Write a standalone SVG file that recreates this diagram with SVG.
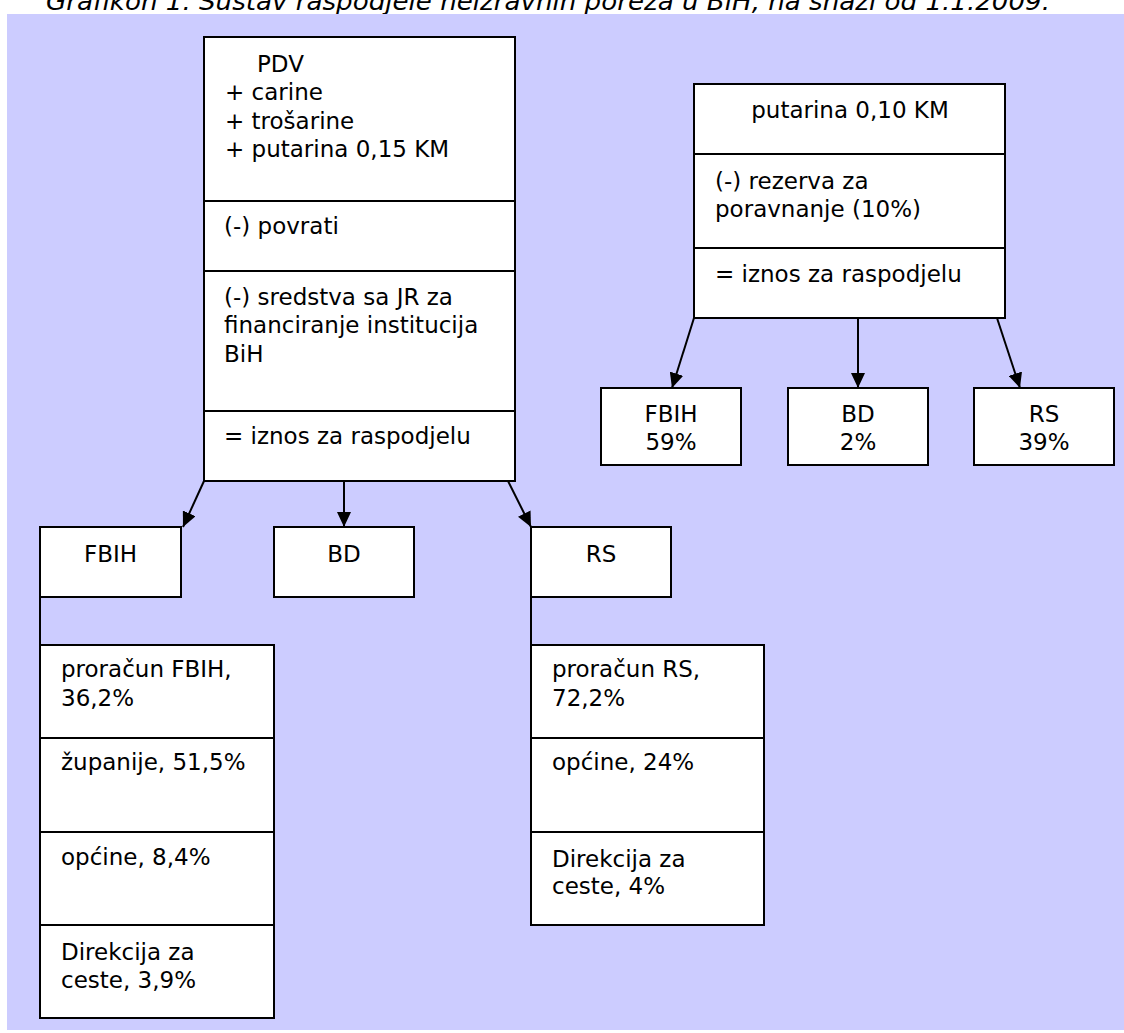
<svg xmlns="http://www.w3.org/2000/svg" width="1124" height="1033" viewBox="0 0 1124 1033">
<style>
.box{fill:#fff;stroke:#000;stroke-width:2}
.div{stroke:#000;stroke-width:2}
.t{font-family:Verdana,"DejaVu Sans",sans-serif;font-size:23px;fill:#000}
.c{text-anchor:middle}
.title{font-family:Verdana,"DejaVu Sans",sans-serif;font-size:25px;font-style:italic;fill:#000}
.con{stroke:#000;stroke-width:2;fill:none}
</style>
<defs>
<marker id="ah" markerUnits="userSpaceOnUse" markerWidth="15" markerHeight="14" refX="15" refY="7" orient="auto">
<path d="M0,0 L15,7 L0,14 z" fill="#000"/>
</marker>
</defs>
<rect x="0" y="0" width="1124" height="1033" fill="#fff"/>
<text class="title" x="46" y="10" textLength="1004" lengthAdjust="spacingAndGlyphs">Grafikon 1. Sustav raspodjele neizravnih poreza u BiH, na snazi od 1.1.2009.</text>
<rect x="7" y="14" width="1117" height="1016" fill="#CCCCFF"/>

<g id="connectors">
<line class="con" x1="204" y1="481" x2="183" y2="527" marker-end="url(#ah)"/>
<line class="con" x1="344" y1="481" x2="344" y2="527" marker-end="url(#ah)"/>
<line class="con" x1="508" y1="481" x2="531" y2="527" marker-end="url(#ah)"/>
<line class="con" x1="694" y1="318" x2="672" y2="388" marker-end="url(#ah)"/>
<line class="con" x1="858" y1="318" x2="858" y2="388" marker-end="url(#ah)"/>
<line class="con" x1="997" y1="318" x2="1020" y2="388" marker-end="url(#ah)"/>
<line class="con" x1="40" y1="597" x2="40" y2="645"/>
<line class="con" x1="531" y1="597" x2="531" y2="645"/>
</g>

<g id="pdv">
<rect class="box" x="204" y="37" width="311" height="444"/>
<line class="div" x1="204" y1="201" x2="515" y2="201"/>
<line class="div" x1="204" y1="271" x2="515" y2="271"/>
<line class="div" x1="204" y1="411" x2="515" y2="411"/>
<text class="t" x="257" y="72">PDV</text>
<text class="t" x="225" y="100">+ carine</text>
<text class="t" x="225" y="129">+ trošarine</text>
<text class="t" x="225" y="157">+ putarina 0,15 KM</text>
<text class="t" x="224" y="234">(-) povrati</text>
<text class="t" x="224" y="305">(-) sredstva sa JR za</text>
<text class="t" x="224" y="333">financiranje institucija</text>
<text class="t" x="224" y="362">BiH</text>
<text class="t" x="224" y="444">= iznos za raspodjelu</text>
</g>

<g id="putarina">
<rect class="box" x="694" y="84" width="311" height="234"/>
<line class="div" x1="694" y1="154" x2="1005" y2="154"/>
<line class="div" x1="694" y1="248" x2="1005" y2="248"/>
<text class="t c" x="850" y="118">putarina 0,10 KM</text>
<text class="t" x="715" y="189">(-) rezerva za</text>
<text class="t" x="715" y="217">poravnanje (10%)</text>
<text class="t" x="715" y="282">= iznos za raspodjelu</text>
</g>

<g id="put-fbih">
<rect class="box" x="601" y="388" width="140" height="77"/>
<text class="t c" x="671" y="422">FBIH</text>
<text class="t c" x="671" y="450">59%</text>
</g>
<g id="put-bd">
<rect class="box" x="788" y="388" width="140" height="77"/>
<text class="t c" x="858" y="422">BD</text>
<text class="t c" x="858" y="450">2%</text>
</g>
<g id="put-rs">
<rect class="box" x="974" y="388" width="140" height="77"/>
<text class="t c" x="1044" y="422">RS</text>
<text class="t c" x="1044" y="450">39%</text>
</g>

<g id="fbih">
<rect class="box" x="40" y="527" width="141" height="70"/>
<text class="t c" x="110.5" y="562">FBIH</text>
</g>
<g id="bd">
<rect class="box" x="274" y="527" width="140" height="70"/>
<text class="t c" x="344" y="562">BD</text>
</g>
<g id="rs">
<rect class="box" x="531" y="527" width="140" height="70"/>
<text class="t c" x="601" y="562">RS</text>
</g>

<g id="fbih-split">
<rect class="box" x="40" y="645" width="234" height="373"/>
<line class="div" x1="40" y1="738" x2="274" y2="738"/>
<line class="div" x1="40" y1="832" x2="274" y2="832"/>
<line class="div" x1="40" y1="925" x2="274" y2="925"/>
<text class="t" x="61" y="677">proračun FBIH,</text>
<text class="t" x="61" y="706">36,2%</text>
<text class="t" x="61" y="770">županije, 51,5%</text>
<text class="t" x="61" y="865">općine, 8,4%</text>
<text class="t" x="61" y="960">Direkcija za</text>
<text class="t" x="61" y="988">ceste, 3,9%</text>
</g>

<g id="rs-split">
<rect class="box" x="531" y="645" width="233" height="280"/>
<line class="div" x1="531" y1="738" x2="764" y2="738"/>
<line class="div" x1="531" y1="832" x2="764" y2="832"/>
<text class="t" x="552" y="677">proračun RS,</text>
<text class="t" x="552" y="706">72,2%</text>
<text class="t" x="552" y="770">općine, 24%</text>
<text class="t" x="552" y="867">Direkcija za</text>
<text class="t" x="552" y="894">ceste, 4%</text>
</g>
</svg>
